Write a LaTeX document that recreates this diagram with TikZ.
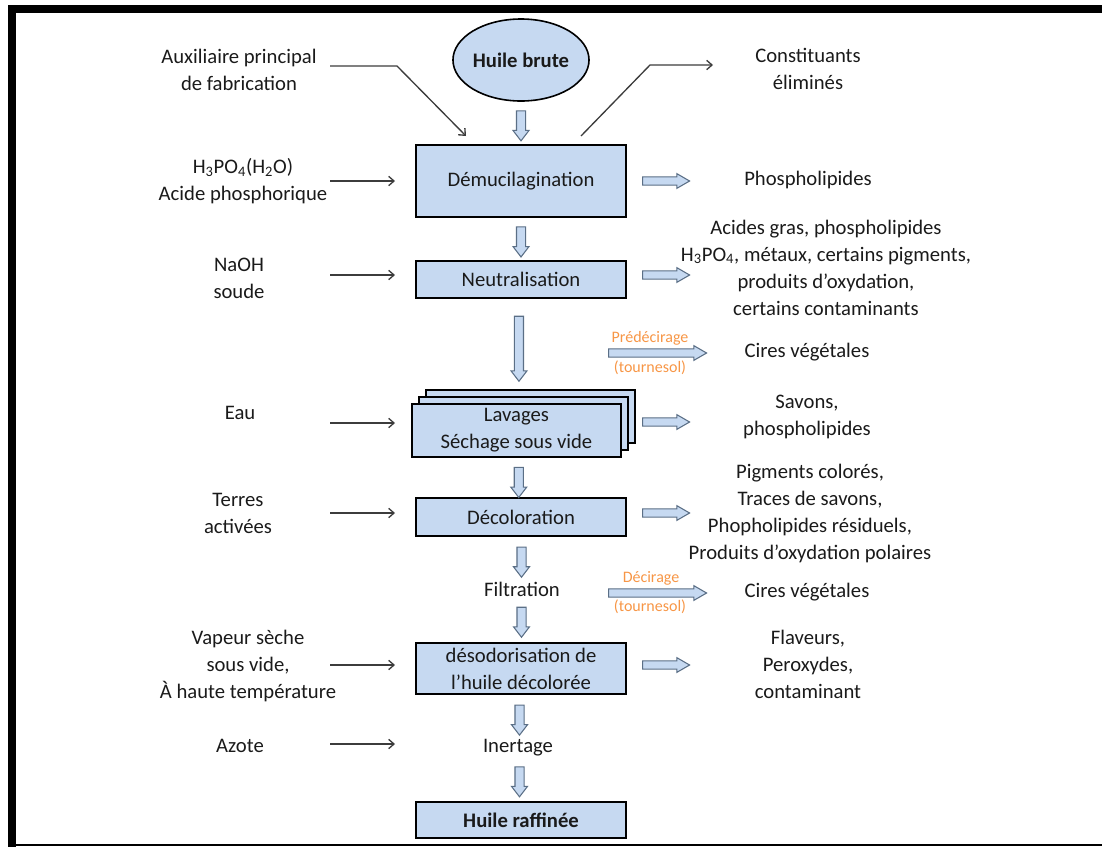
\documentclass[tikz,border=0pt]{standalone}
\usepackage{fontspec}
\setmainfont{Carlito}
\usetikzlibrary{shapes.geometric,shapes.arrows,shadows,arrows.meta,calc}
\definecolor{boxblue}{HTML}{C6D9F1}
\definecolor{arrblue}{HTML}{C6D9F1}
\definecolor{arredge}{HTML}{5B6F86}
\definecolor{orangetxt}{HTML}{F79646}
\definecolor{ink}{HTML}{1A1A1A}
\begin{document}
\begin{tikzpicture}[x=0.75pt,y=-0.75pt,
  every node/.style={font=\fontsize{15.5}{20.25}\selectfont, text=ink},
  txt/.style={inner sep=0pt, align=center},
  stepbox/.style={draw=black, line width=1.5pt, fill=boxblue, minimum width=157.5pt, inner sep=0pt, align=center},
  darr/.style={single arrow, shape border rotate=270, draw=arredge, line width=0.8pt, fill=arrblue, inner sep=3pt, single arrow head extend=2.6pt, single arrow tip angle=75, minimum height=22.5pt},
  rarr/.style={single arrow, draw=arredge, line width=0.8pt, fill=arrblue, inner sep=2.7pt, single arrow head extend=2.4pt, single arrow tip angle=60, minimum height=35.25pt},
  inarr/.style={draw=ink!85, line width=1pt, -{Straight Barb[length=4pt,width=7pt]}},
  orangelbl/.style={txt, text=orangetxt, font=\fontsize{12}{14}\selectfont}
]
\useasboundingbox (0,0) rectangle (1102,847);
% frame
\fill[black] (8,5) rectangle (1102,13);
\fill[black] (8,5) rectangle (16,847);
\fill[black] (8,844) rectangle (1102,846);

% main column
\node[ellipse, draw=black, line width=1.2pt, fill=boxblue, minimum width=99pt, minimum height=61.5pt, inner sep=0pt, font=\fontsize{15.5}{20.25}\selectfont\bfseries] (huile) at (521,60) {Huile brute};
\node[stepbox, minimum height=54pt] (demu) at (521,181) {Démucilagination};
\node[stepbox, minimum height=27.75pt] (neut) at (521,279.5) {Neutralisation};
\node[stepbox, minimum width=156.75pt, minimum height=39.75pt, double copy shadow={shadow xshift=5.25pt, shadow yshift=5.25pt}] (lav) at (516.5,430.5) {Lavages\\Séchage sous vide};
\node[stepbox, minimum height=28.5pt] (deco) at (521,517) {Décoloration};
\node[txt] (filt) at (522,589) {Filtration};
\node[stepbox, minimum height=38.25pt] (deso) at (521,668.5) {désodorisation de\\l’huile décolorée};
\node[txt] (inert) at (518,748) {Inertage};
\node[stepbox, minimum height=27pt, font=\fontsize{15.5}{20.25}\selectfont\bfseries] (raff) at (521,820) {Huile raffinée};

% down hollow arrows
\path (huile.south) -- (demu.north) node[darr, midway] {};
\path (demu.south) -- (neut.north) node[darr, midway] {};
\path (neut.south) -- (lav.north) node[darr, pos=0.45, minimum height=48.75pt] {};
\path (lav.south) -- (deco.north) node[darr, midway, yshift=-1.5pt] {};
\path (deco.south) -- (filt.north) node[darr, midway] {};
\path (filt.south) -- (deso.north) node[darr, midway] {};
\path (deso.south) -- (inert.north) node[darr, midway] {};
\path (inert.south) -- (raff.north) node[darr, midway] {};

% left inputs
\node[txt] (aux) at (239,70) {Auxiliaire principal\\de fabrication};
\node[txt] (h3) at (243,181) {H\textsubscript{3}PO\textsubscript{4}(H\textsubscript{2}O)\\Acide phosphorique};
\node[txt] (naoh) at (239,278.5) {NaOH\\soude};
\node[txt] (eau) at (240,413) {Eau};
\node[txt] (terres) at (238,513.5) {Terres\\activées};
\node[txt] (vap) at (248,666) {Vapeur sèche\\sous vide,\\À haute température};
\node[txt] (azote) at (240,746) {Azote};

\coordinate (ia2) at (330,181);
\coordinate (ia3) at (330,275);
\coordinate (ia4) at (330,423);
\coordinate (ia5) at (330,513);
\coordinate (ia6) at (330,665);
\coordinate (ia7) at (330,744);
\draw[inarr, shorten >=15pt] (ia2) -- (ia2 -| demu.west);
\draw[inarr, shorten >=15pt] (ia3) -- (ia3 -| neut.west);
\draw[inarr, shorten >=12pt] (ia4) -- (ia4 -| lav.west);
\draw[inarr, shorten >=15pt] (ia5) -- (ia5 -| deco.west);
\draw[inarr, shorten >=15pt] (ia6) -- (ia6 -| deso.west);
\draw[inarr, shorten >=15pt] (ia7) -- (ia7 -| raff.west);

\coordinate (auxs) at (330,66);
\coordinate (auxk) at (397,66);
\draw[inarr] (auxs) -- (auxk) -- ($(demu.north west)+(51,-8)$);

% right outputs
\node[txt] (const) at (808,69) {Constituants\\éliminés};
\coordinate (cek) at (650,65);
\coordinate (cee) at (713,65);
\draw[inarr] ($(demu.north east)+(-46,-8)$) -- (cek) -- (cee);

\node[txt] (phos) at (808,180) {Phospholipides};
\node[txt] (acid) at (826,267.5) {Acides gras, phospholipides\\H\textsubscript{3}PO\textsubscript{4}, métaux, certains pigments,\\produits d’oxydation,\\certains contaminants};
\node[txt] (cires1) at (807,352) {Cires végétales};
\node[txt] (sav) at (807,416.5) {Savons,\\phospholipides};
\node[txt] (pigm) at (810,513.5) {Pigments colorés,\\Traces de savons,\\Phopholipides résiduels,\\Produits d’oxydation polaires};
\node[txt] (cires2) at (807,592) {Cires végétales};
\node[txt] (flav) at (808,664.5) {Flaveurs,\\Peroxydes,\\contaminant};

\node[rarr] (r1) at ($(demu.east)+(35.5,0)$) {};
\node[rarr] (r2) at ($(neut.east)+(35.5,-4.5)$) {};
\node[rarr] (r3) at ($(lav.east)+(40.5,-8.5)$) {};
\node[rarr] (r4) at ($(deco.east)+(35.5,-4)$) {};
\node[rarr] (r5) at ($(deso.east)+(35.5,-3.5)$) {};

\node[rarr, minimum height=73.5pt] (pd) at (654,353) {};
\node[orangelbl] (pdl) at (650,338) {Prédécirage};
\node[orangelbl] (pdt) at (650,368) {(tournesol)};
\node[rarr, minimum height=73.5pt] (dc) at (654,593) {};
\node[orangelbl] (dcl) at (651,578) {Décirage};
\node[orangelbl] (dct) at (650,607) {(tournesol)};
\end{tikzpicture}
\end{document}
